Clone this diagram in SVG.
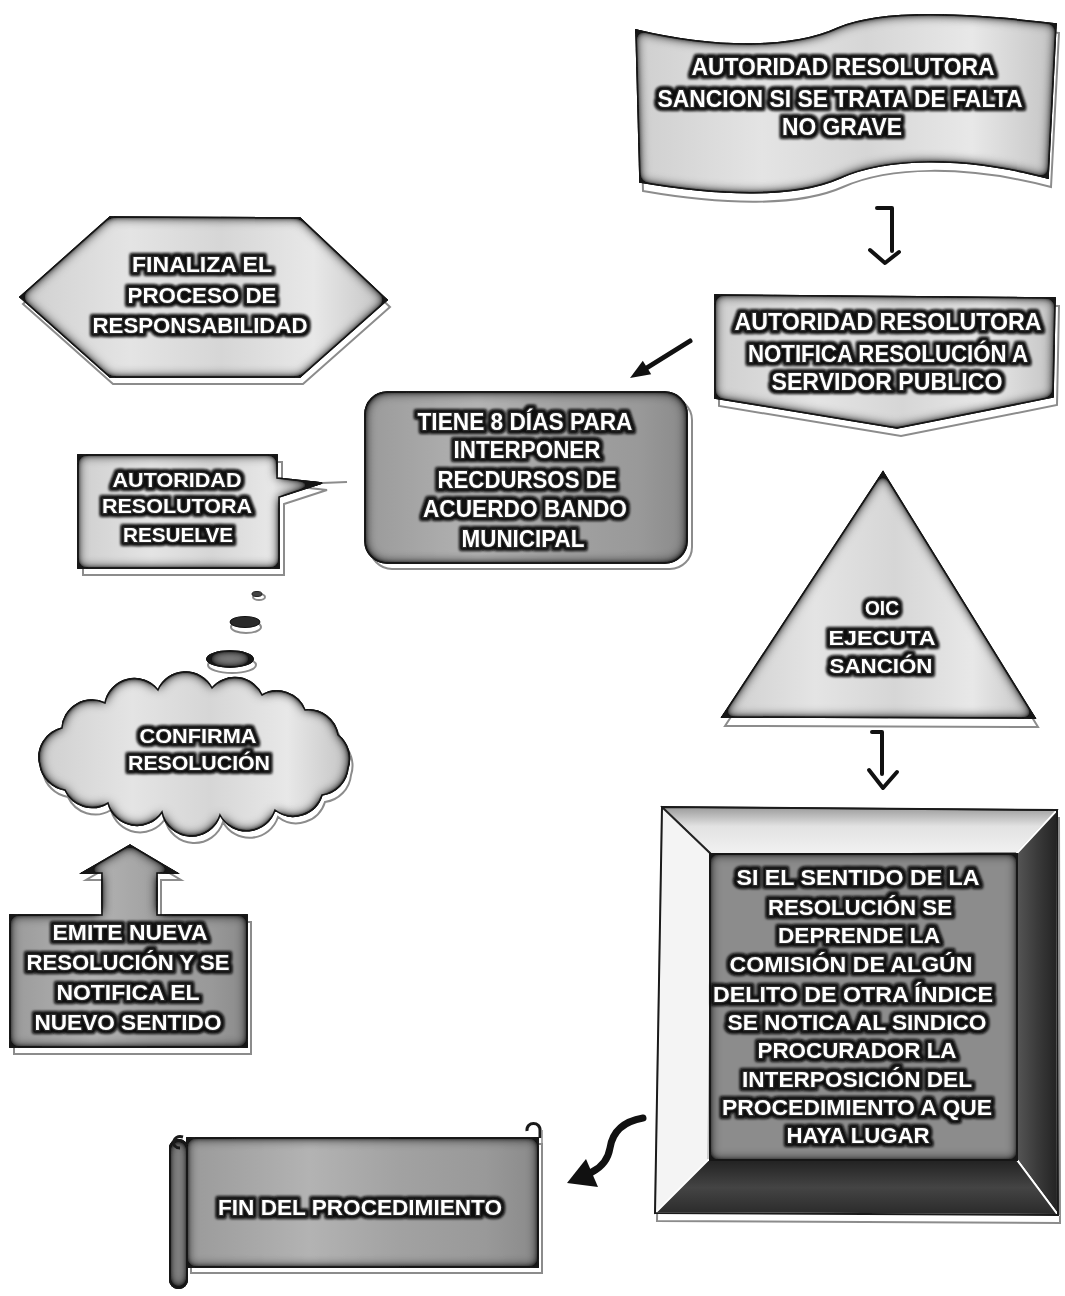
<svg xmlns="http://www.w3.org/2000/svg" xmlns:xlink="http://www.w3.org/1999/xlink" width="1065" height="1296" viewBox="0 0 1065 1296">
<defs>
<style>
.light{fill:url(#gLight);stroke:#1e1e1e;stroke-width:1.5}
.dark{fill:url(#gDark);stroke:#1a1a1a;stroke-width:1.5}
.shadow{fill:#fff;stroke:#8c8c8c;stroke-width:2}
.t{font-family:"Liberation Sans",Arial,Helvetica,sans-serif;font-weight:700;fill:#fff;text-anchor:middle;stroke:#2a2a2a;stroke-width:2.4;paint-order:stroke}
.conn{fill:none;stroke:#111;stroke-linecap:round;stroke-linejoin:round}
</style>
<linearGradient id="gLight" x1="0" y1="0" x2="1" y2="0">
<stop offset="0" stop-color="#cfcfcf"/><stop offset="0.3" stop-color="#e4e4e4"/><stop offset="0.55" stop-color="#d6d6d6"/><stop offset="0.8" stop-color="#e8e8e8"/><stop offset="1" stop-color="#c4c4c4"/>
</linearGradient>
<linearGradient id="gDark" x1="0" y1="0" x2="1" y2="0">
<stop offset="0" stop-color="#9a9a9a"/><stop offset="0.35" stop-color="#b3b3b3"/><stop offset="0.6" stop-color="#a2a2a2"/><stop offset="0.85" stop-color="#999"/><stop offset="1" stop-color="#8a8a8a"/>
</linearGradient>
<linearGradient id="gTop" x1="0" y1="0" x2="0" y2="1">
<stop offset="0" stop-color="#9a9a9a"/><stop offset="0.4" stop-color="#e2e2e2"/><stop offset="1" stop-color="#f2f2f2"/>
</linearGradient>
<linearGradient id="gRight" x1="0" y1="0" x2="1" y2="0">
<stop offset="0" stop-color="#555"/><stop offset="0.5" stop-color="#3a3a3a"/><stop offset="1" stop-color="#222"/>
</linearGradient>
<linearGradient id="gBottom" x1="0" y1="0" x2="0" y2="1">
<stop offset="0" stop-color="#222"/><stop offset="0.5" stop-color="#444"/><stop offset="1" stop-color="#2a2a2a"/>
</linearGradient>
<filter id="inset" x="-10%" y="-10%" width="120%" height="120%">
<feGaussianBlur in="SourceAlpha" stdDeviation="6" result="b"/>
<feComposite in="SourceAlpha" in2="b" operator="out" result="e"/>
<feComponentTransfer in="e" result="e2"><feFuncA type="linear" slope="2.2"/></feComponentTransfer>
<feFlood flood-color="#141414" result="f"/>
<feComposite in="f" in2="e2" operator="in" result="s"/>
<feMerge><feMergeNode in="SourceGraphic"/><feMergeNode in="s"/></feMerge>
</filter>
<filter id="halo" x="-10%" y="-20%" width="120%" height="140%">
<feMorphology in="SourceAlpha" operator="dilate" radius="1.5" result="d"/>
<feGaussianBlur in="d" stdDeviation="1.8" result="b"/>
<feFlood flood-color="#111"/>
<feComposite in2="b" operator="in" result="s"/>
<feMerge><feMergeNode in="s"/><feMergeNode in="s"/><feMergeNode in="SourceGraphic"/></feMerge>
</filter>
<path id="s-wave" d="M636,30 C720,50 795,48 838,28 C880,10 960,12 1056,24 L1048,178 C960,155 885,158 840,178 C795,198 720,196 640,182 Z"/>
<polygon id="s-hex" points="20,297 110,217 300,218 387,300 300,377 110,377"/>
<polygon id="s-notch" points="715,295 1055,298 1053,397 897,428 715,398"/>
<rect id="s-round" x="365" y="392" width="322" height="171" rx="22"/>
<path id="s-callout" d="M78,455 H277 V478 L322,483 L279,497 V568 H78 Z"/>
<path id="s-cloud" d="M40,765 A30,30 0 0 1 62,728 A30,30 0 0 1 105,703 A30,30 0 0 1 158,690 A30,30 0 0 1 212,688 A30,30 0 0 1 262,695 A30,30 0 0 1 305,710 A30,30 0 0 1 338,735 A30,30 0 0 1 348,768 A30,30 0 0 1 322,795 A30,30 0 0 1 275,810 A30,30 0 0 1 220,815 A30,30 0 0 1 162,812 A30,30 0 0 1 108,803 A30,30 0 0 1 65,790 A30,30 0 0 1 40,765 Z"/>
<path id="s-uparrow" d="M10,915 H102 V873 H82 L130,845 L177,873 H157 V915 H247 V1047 H10 Z"/>
<polygon id="s-tri" points="883,472 1035,718 722,717"/>
<polygon id="s-bevel" points="662,807 1057,810 1058,1215 655,1213"/>
<rect id="s-scroll" x="187" y="1138" width="351" height="129"/>
</defs>

<rect width="1065" height="1296" fill="#fff"/>

<g id="connectors">
<path class="conn" d="M877,208 H892 V251" stroke-width="4"/>
<path class="conn" d="M870,250 L885,263 L899,252" stroke-width="4"/>
<line class="conn" x1="690" y1="341" x2="645" y2="369" stroke-width="5"/>
<polygon points="630,378 642.8,360.7 651.2,374.3" fill="#111"/>
<path class="conn" d="M872,732 H882 V774" stroke-width="4"/>
<path class="conn" d="M869,770 L883,788 L897,772" stroke-width="4"/>
<path class="conn" d="M643,1118 C620,1122 612,1135 610,1148 C608,1160 602,1167 592,1172" stroke-width="7"/>
<polygon points="567,1183 586,1159 598,1187" fill="#111"/>
</g>

<g id="node-sancion">
<use href="#s-wave" class="shadow" transform="translate(3,9)"/>
<use href="#s-wave" class="light" filter="url(#inset)"/>
<g filter="url(#halo)">
<text class="t" x="843" y="75" font-size="23" textLength="303" lengthAdjust="spacingAndGlyphs">AUTORIDAD RESOLUTORA</text>
<text class="t" x="840" y="107" font-size="23" textLength="365" lengthAdjust="spacingAndGlyphs">SANCION SI SE TRATA DE FALTA</text>
<text class="t" x="842" y="135" font-size="23" textLength="120" lengthAdjust="spacingAndGlyphs">NO GRAVE</text>
</g>
</g>

<g id="node-finaliza">
<use href="#s-hex" class="shadow" transform="translate(3,7)"/>
<use href="#s-hex" class="light" filter="url(#inset)"/>
<g filter="url(#halo)">
<text class="t" x="202" y="272" font-size="22" textLength="140" lengthAdjust="spacingAndGlyphs">FINALIZA EL</text>
<text class="t" x="202" y="303" font-size="22" textLength="149" lengthAdjust="spacingAndGlyphs">PROCESO DE</text>
<text class="t" x="200" y="333" font-size="22" textLength="215" lengthAdjust="spacingAndGlyphs">RESPONSABILIDAD</text>
</g>
</g>

<g id="node-notifica">
<use href="#s-notch" class="shadow" transform="translate(4,8)"/>
<use href="#s-notch" class="light" filter="url(#inset)"/>
<g filter="url(#halo)">
<text class="t" x="888" y="330" font-size="23" textLength="307" lengthAdjust="spacingAndGlyphs">AUTORIDAD RESOLUTORA</text>
<text class="t" x="888" y="362" font-size="23" textLength="280" lengthAdjust="spacingAndGlyphs">NOTIFICA RESOLUCIÓN A</text>
<text class="t" x="887" y="390" font-size="23" textLength="231" lengthAdjust="spacingAndGlyphs">SERVIDOR PUBLICO</text>
</g>
</g>

<g id="node-tiene">
<use href="#s-round" class="shadow" transform="translate(5,6)"/>
<use href="#s-round" class="dark" filter="url(#inset)"/>
<g filter="url(#halo)">
<text class="t" x="525" y="430" font-size="23" textLength="215" lengthAdjust="spacingAndGlyphs">TIENE 8 DÍAS PARA</text>
<text class="t" x="527" y="458" font-size="23" textLength="147" lengthAdjust="spacingAndGlyphs">INTERPONER</text>
<text class="t" x="527" y="488" font-size="23" textLength="179" lengthAdjust="spacingAndGlyphs">RECDURSOS DE</text>
<text class="t" x="525" y="517" font-size="23" textLength="204" lengthAdjust="spacingAndGlyphs">ACUERDO BANDO</text>
<text class="t" x="523" y="547" font-size="23" textLength="123" lengthAdjust="spacingAndGlyphs">MUNICIPAL</text>
</g>
</g>

<g id="node-resuelve">
<use href="#s-callout" class="shadow" transform="translate(5,7)"/>
<line x1="322" y1="483" x2="347" y2="482" stroke="#8c8c8c" stroke-width="2"/>
<use href="#s-callout" class="light" filter="url(#inset)"/>
<g filter="url(#halo)">
<text class="t" x="177" y="487" font-size="20" textLength="129" lengthAdjust="spacingAndGlyphs">AUTORIDAD</text>
<text class="t" x="177" y="513" font-size="20" textLength="150" lengthAdjust="spacingAndGlyphs">RESOLUTORA</text>
<text class="t" x="178" y="542" font-size="20" textLength="110" lengthAdjust="spacingAndGlyphs">RESUELVE</text>
</g>
</g>

<g id="node-bubbles">
<ellipse cx="259" cy="597" rx="6" ry="3" class="shadow"/>
<ellipse cx="257" cy="594" rx="5" ry="2.5" fill="#444" stroke="#222" stroke-width="1"/>
<ellipse cx="246" cy="627" rx="15" ry="6" class="shadow"/>
<ellipse cx="245" cy="622" rx="15" ry="5.5" fill="#2a2a2a" stroke="#111" stroke-width="1"/>
<ellipse cx="232" cy="665" rx="24" ry="8" class="shadow"/>
<ellipse cx="230" cy="659" rx="23" ry="8" fill="#8a8a8a" stroke="#1a1a1a" stroke-width="1.5" filter="url(#inset)"/>
</g>

<g id="node-confirma">
<use href="#s-cloud" class="shadow" transform="translate(3,7)"/>
<use href="#s-cloud" class="light" filter="url(#inset)"/>
<g filter="url(#halo)">
<text class="t" x="198" y="743" font-size="21" textLength="117" lengthAdjust="spacingAndGlyphs">CONFIRMA</text>
<text class="t" x="199" y="770" font-size="21" textLength="142" lengthAdjust="spacingAndGlyphs">RESOLUCIÓN</text>
</g>
</g>

<g id="node-emite">
<use href="#s-uparrow" class="shadow" transform="translate(4,7)"/>
<use href="#s-uparrow" class="dark" filter="url(#inset)"/>
<g filter="url(#halo)">
<text class="t" x="130" y="940" font-size="22" textLength="155" lengthAdjust="spacingAndGlyphs">EMITE NUEVA</text>
<text class="t" x="128" y="970" font-size="22" textLength="203" lengthAdjust="spacingAndGlyphs">RESOLUCIÓN Y SE</text>
<text class="t" x="128" y="1000" font-size="22" textLength="143" lengthAdjust="spacingAndGlyphs">NOTIFICA EL</text>
<text class="t" x="128" y="1030" font-size="22" textLength="187" lengthAdjust="spacingAndGlyphs">NUEVO SENTIDO</text>
</g>
</g>

<g id="node-oic">
<use href="#s-tri" class="shadow" transform="translate(3,9)"/>
<use href="#s-tri" class="light" filter="url(#inset)"/>
<g filter="url(#halo)">
<text class="t" x="882" y="615" font-size="21" textLength="34" lengthAdjust="spacingAndGlyphs">OIC</text>
<text class="t" x="882" y="645" font-size="21" textLength="107" lengthAdjust="spacingAndGlyphs">EJECUTA</text>
<text class="t" x="881" y="673" font-size="21" textLength="103" lengthAdjust="spacingAndGlyphs">SANCIÓN</text>
</g>
</g>

<g id="node-delito">
<use href="#s-bevel" class="shadow" transform="translate(2,8)"/>
<polygon points="662,807 1057,810 1017,853 712,855" fill="url(#gTop)" stroke="#2a2a2a" stroke-width="1.5"/>
<polygon points="662,807 712,855 708,1160 655,1213" fill="#f4f4f4" stroke="#bbb" stroke-width="1.5"/>
<polygon points="1057,810 1058,1215 1017,1160 1017,853" fill="url(#gRight)" stroke="#fff" stroke-width="2"/>
<polygon points="708,1160 1017,1160 1058,1215 655,1213" fill="url(#gBottom)" stroke="#fff" stroke-width="2"/>
<line x1="662" y1="807" x2="712" y2="855" stroke="#222" stroke-width="2"/>
<use href="#s-bevel" fill="none" stroke="#1a1a1a" stroke-width="2"/>
<rect x="710" y="854" width="307" height="306" fill="#8c8c8c" stroke="#111" stroke-width="2" filter="url(#inset)"/>
<g filter="url(#halo)">
<text class="t" x="858" y="885" font-size="22" textLength="243" lengthAdjust="spacingAndGlyphs">SI EL SENTIDO DE LA</text>
<text class="t" x="860" y="915" font-size="22" textLength="184" lengthAdjust="spacingAndGlyphs">RESOLUCIÓN SE</text>
<text class="t" x="859" y="943" font-size="22" textLength="162" lengthAdjust="spacingAndGlyphs">DEPRENDE LA</text>
<text class="t" x="851" y="972" font-size="22" textLength="243" lengthAdjust="spacingAndGlyphs">COMISIÓN  DE ALGÚN</text>
<text class="t" x="853" y="1002" font-size="22" textLength="280" lengthAdjust="spacingAndGlyphs">DELITO DE OTRA ÍNDICE</text>
<text class="t" x="857" y="1030" font-size="22" textLength="259" lengthAdjust="spacingAndGlyphs">SE NOTICA AL SINDICO</text>
<text class="t" x="857" y="1058" font-size="22" textLength="199" lengthAdjust="spacingAndGlyphs">PROCURADOR LA</text>
<text class="t" x="857" y="1087" font-size="22" textLength="230" lengthAdjust="spacingAndGlyphs">INTERPOSICIÓN DEL</text>
<text class="t" x="857" y="1115" font-size="22" textLength="270" lengthAdjust="spacingAndGlyphs">PROCEDIMIENTO A QUE</text>
<text class="t" x="858" y="1143" font-size="22" textLength="143" lengthAdjust="spacingAndGlyphs">HAYA LUGAR</text>
</g>
</g>

<g id="node-fin">
<use href="#s-scroll" class="shadow" transform="translate(4,6)"/>
<use href="#s-scroll" class="dark" filter="url(#inset)"/>
<rect x="170" y="1140" width="17" height="148" rx="8" fill="#8a8a8a" stroke="#1a1a1a" stroke-width="2" filter="url(#inset)"/>
<path d="M183,1137 C172,1134 170,1148 180,1148" fill="none" stroke="#1a1a1a" stroke-width="3"/>
<path d="M527,1131 C526,1121 541,1121 540,1131 V1138" fill="none" stroke="#1a1a1a" stroke-width="3"/>
<line x1="542" y1="1130" x2="542" y2="1262" stroke="#8c8c8c" stroke-width="1.5"/>
<g filter="url(#halo)">
<text class="t" x="360" y="1215" font-size="22" textLength="284" lengthAdjust="spacingAndGlyphs">FIN DEL PROCEDIMIENTO</text>
</g>
</g>
</svg>
